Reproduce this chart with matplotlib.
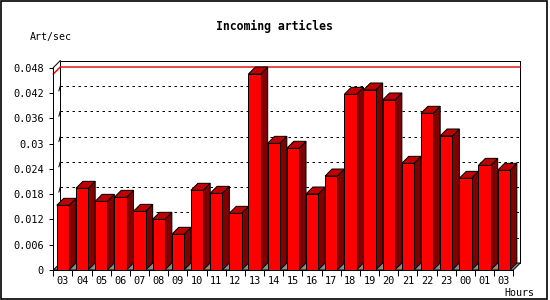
import matplotlib
matplotlib.use("Agg")
import matplotlib.pyplot as plt
from matplotlib.patches import Polygon, Rectangle
import numpy as np

# ---------------- data ----------------
hours = ["03", "04", "05", "06", "07", "08", "09", "10", "11", "12", "13", "14",
         "15", "16", "17", "18", "19", "20", "21", "22", "23", "00", "01", "03"]
rates = [0.01534, 0.01937, 0.01628, 0.01723, 0.01391, 0.01202, 0.00846, 0.01890,
         0.01818, 0.01344, 0.04648, 0.03004, 0.02886, 0.01802, 0.02229, 0.04166,
         0.04269, 0.04032, 0.02530, 0.03716, 0.03178, 0.02174, 0.02482, 0.02364]
y_ticks = [0, 0.006, 0.012, 0.018, 0.024, 0.030, 0.036, 0.042, 0.048]
y_tick_labels = ["0", "0.006", "0.012", "0.018", "0.024", "0.03", "0.036", "0.042", "0.048"]
title = "Incoming articles"
y_title = "Art/sec"
x_title = "Hours"

# ---------------- layout ----------------
W, H = 550, 300
FONT = "DejaVu Sans Mono"
fig = plt.figure(figsize=(W / 100, H / 100), dpi=100)
fig.patch.set_facecolor("white")
ax_w_px, ax_h_px = 460.0, 202.4
ax = fig.add_axes([53.3 / W, 30 / H, ax_w_px / W, ax_h_px / H])
ax.set_facecolor("none")
n = len(hours)
ymax = y_ticks[-1]
ax.set_xlim(0, n)
ax.set_ylim(0, ymax)

depth_px = 7
dx = depth_px * n / ax_w_px
dy = depth_px * ymax / ax_h_px
lw = 0.72

# back wall
ax.add_patch(Rectangle((dx, dy), n, ymax, facecolor="white", edgecolor="black",
                       lw=lw, zorder=1, clip_on=False))
# dashed grid on back wall
for v in y_ticks[1:-1]:
    ax.plot([dx, n + dx], [v + dy, v + dy], color="black", lw=lw,
            ls=(0, (2.5, 3.5)), zorder=2, clip_on=False)
    ax.plot([dx * 0.8, dx], [v + dy * 0.3, v + dy], color="black", lw=lw,
            zorder=2, clip_on=False)
# max line
m = max(rates)
ax.plot([0, dx, n + dx], [m, m + dy, m + dy], color="#e00000", lw=1.0,
        zorder=2, clip_on=False)
# floor
ax.add_patch(Polygon([(0, 0), (n, 0), (n + dx, dy), (dx, dy)], closed=True,
                     facecolor="#8c8c8c", edgecolor="black", lw=lw, zorder=3,
                     clip_on=False))

# bars
bw = 0.64
for i, v in enumerate(rates):
    x0 = i + (1 - bw) / 2
    x1 = x0 + bw
    z = 4 + i * 0.01
    ax.add_patch(Polygon([(x1, 0), (x1 + dx, dy), (x1 + dx, v + dy), (x1, v)],
                         closed=True, facecolor="#800000", edgecolor="black",
                         lw=lw, zorder=z, clip_on=False))
    ax.add_patch(Polygon([(x0, v), (x1, v), (x1 + dx, v + dy), (x0 + dx, v + dy)],
                         closed=True, facecolor="#c00000", edgecolor="black",
                         lw=lw, zorder=z, clip_on=False))
    ax.add_patch(Rectangle((x0, 0), bw, v, facecolor="#ff0000", edgecolor="black",
                           lw=lw, zorder=z + 0.005, clip_on=False))

# frame lines
ax.plot([0, dx], [ymax, ymax + dy], color="black", lw=lw, zorder=6, clip_on=False)
for s in ["top", "right"]:
    ax.spines[s].set_visible(False)
for s in ["left", "bottom"]:
    ax.spines[s].set_linewidth(lw)
    ax.spines[s].set_zorder(6)

# ticks
ax.set_yticks(y_ticks, y_tick_labels)
ax.tick_params(axis="y", length=3, width=lw, pad=4, labelsize=7.4)
ax.set_xticks(np.arange(n + 1))
ax.set_xticklabels([])
ax.set_xticks(np.arange(n) + 0.5, minor=True)
ax.set_xticklabels(hours, minor=True)
ax.tick_params(axis="x", which="major", length=4, width=lw)
ax.tick_params(axis="x", which="minor", length=0, pad=4, labelsize=7.4)
for lab in ax.get_yticklabels() + ax.get_xticklabels(minor=True):
    lab.set_family(FONT)

# texts
fig.text(274 / W, 1 - 26.7 / H, title, ha="center", va="center", family=FONT,
         weight="bold", fontsize=8.3)
fig.text(30 / W, 1 - 36.7 / H, y_title, ha="left", va="center", family=FONT,
         fontsize=7.2)
fig.text(534 / W, 1 - 292.7 / H, x_title, ha="right", va="center", family=FONT,
         fontsize=7.2)

# outer border
fig.add_artist(Rectangle((0.5 / W, 1.5 / H), 546.5 / W, 298 / H, transform=fig.transFigure,
                         facecolor="none", edgecolor="black", lw=1.2))

fig.savefig("out.png", dpi=100, facecolor="white")
